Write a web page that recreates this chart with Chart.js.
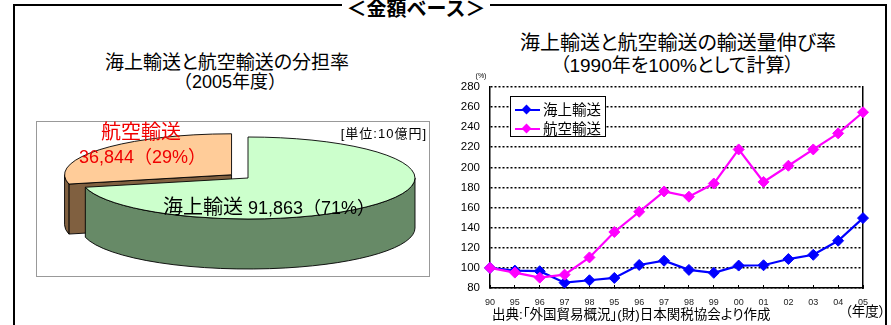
<!DOCTYPE html>
<html lang="ja">
<head>
<meta charset="utf-8">
<script src="https://cdn.jsdelivr.net/npm/chart.js@4"></script>
<style>
html, body { margin: 0; padding: 0; background: #fff; }
body {
  width: 891px; height: 325px; position: relative; overflow: hidden; color: #000;
  font-family: "Liberation Sans", "Noto Sans CJK JP", sans-serif;
  font-feature-settings: "palt";
}
.t { position: absolute; white-space: nowrap; line-height: 1; }
.c { transform: translate(-50%, -50%); }
.l { transform: translateY(-50%); }
.r { transform: translate(-100%, -50%); }
.fw { font-feature-settings: normal; }
#frame {
  position: absolute; left: 13px; top: 4px; width: 870px; height: 340px;
  border: 2px solid #000; border-bottom: none;
}
#frameTitle {
  position: absolute; left: 342px; top: 9px; width: 148px; transform: translateY(-50%);
  text-align: center; background: #fff; font-weight: bold; font-size: 20px; line-height: 1;
  font-feature-settings: normal;
}
#pieBox {
  position: absolute; left: 36px; top: 121px; width: 394px; height: 156px;
  box-sizing: border-box; border: 1px solid #999;
}
#share { position: absolute; left: 37px; top: 122px; }
#growth { position: absolute; left: 440px; top: 70px; }
#legend {
  position: absolute; left: 510px; top: 96px; width: 96px; height: 41px; box-sizing: border-box;
  border: 1.5px solid #000; background: #fff;
}
.lrow { position: absolute; left: 0; height: 18px; width: 100%; }
.lline { position: absolute; left: 4px; top: 8px; width: 25px; height: 2px; }
.ldia { position: absolute; left: 12px; top: 5px; width: 7px; height: 7px; transform: rotate(45deg); }
.ltxt { position: absolute; left: 32px; top: 1px; font-size: 14.5px; line-height: 16px; }
</style>
</head>
<body>
<div id="frame"></div>
<div id="frameTitle">＜金額ベース＞</div>

<div class="t c" style="left:227px; top:62px; font-size:19px;">海上輸送と航空輸送の分担率</div>
<div class="t c fw" style="left:230px; top:82px; font-size:18px;">（2005年度）</div>

<div id="pieBox"></div>
<canvas id="share" width="392" height="154"></canvas>
<div class="t r" style="left:427px; top:133px; font-size:13px; letter-spacing:1px;">[単位:10億円]</div>
<div id="airLabel1" class="t c fw" style="left:141px; top:132px; font-size:20px; color:#f00000;"></div>
<div id="airLabel2" class="t l fw" style="left:79px; top:157px; font-size:18px; color:#f00000;"></div>
<div id="seaLabel" class="t l fw" style="left:163px; top:207px; font-size:18px;"></div>

<div class="t c" style="left:678px; top:43px; font-size:20px;">海上輸送と航空輸送の輸送量伸び率</div>
<div class="t c" style="left:677px; top:65px; font-size:19px;">（1990年を100%として計算）</div>
<canvas id="growth" width="451" height="255"></canvas>
<div class="t c" style="left:481px; top:75px; font-size:7px;">(%)</div>
<div id="legend"></div>
<div class="t l" style="left:492px; top:315px; font-size:13.5px;">出典:「外国貿易概況」(財)日本関税協会より作成</div>
<div class="t l" style="left:845px; top:312px; font-size:13.5px;">（年度）</div>

<script>
// 2005年度の分担（単位：10億円）
const shareLabels = ['海上輸送', '航空輸送'];
const shareValues = [91863, 36844];
const shareTopColors = ['#ccffcc', '#ffcc99'];
const shareSideColors = ['#678a67', '#806040'];

// 1990年を100%とした伸び率
const years = ['90', '95', '96', '97', '98', '95', '96', '97', '98', '99', '00', '01', '02', '03', '04', '05'];
const seaGrowth = [100, 97.3, 96.7, 85.3, 87.7, 90, 102.9, 107.1, 98, 95.1, 102.3, 102.6, 108.8, 113, 127, 149.5];
const airGrowth = [100, 95.3, 90.3, 93.3, 110.4, 135.7, 155.8, 176, 170.8, 183.9, 217.8, 185.5, 201.6, 217.8, 233.8, 254.8];
const growthMin = 80, growthMax = 280, growthStep = 20;

Chart.defaults.font.family = '"Liberation Sans", "Noto Sans CJK JP", sans-serif';
Chart.defaults.color = '#000';

// --- 分担率ラベル ---
const shareTotal = shareValues.reduce((a, b) => a + b, 0);
const fmt = v => v.toLocaleString('en-US');
const pct = v => Math.round(v / shareTotal * 100);
document.getElementById('airLabel1').textContent = shareLabels[1];
document.getElementById('airLabel2').textContent = fmt(shareValues[1]) + '（' + pct(shareValues[1]) + '%）';
document.getElementById('seaLabel').innerHTML =
  '<span style="font-size:20px">' + shareLabels[0] + '</span> ' + fmt(shareValues[0]) + '（' + pct(shareValues[0]) + '%）';

// 立体の円グラフ：各スライスの角度はChart.jsの円弧要素から取り、楕円として描く
const pie3d = {
  id: 'pie3d',
  beforeDatasetsDraw(chart, args, opts) {
    const ctx = chart.ctx;
    const area = chart.chartArea;
    const depth = opts.depth;
    const rx = (area.right - area.left) / 2;
    const ry = (area.bottom - area.top - depth) / 2;
    const cx = (area.left + area.right) / 2;
    const cy = area.top + ry;
    const k = ry / rx;
    const ds = chart.data.datasets[0];
    const slices = chart.getDatasetMeta(0).data.map((arc, i) => {
      const mid = (arc.startAngle + arc.endAngle) / 2;
      const off = arc.options.offset || 0;
      return { i, a0: arc.startAngle, a1: arc.endAngle, mid,
        x: cx + off * Math.cos(mid), y: cy + off * k * Math.sin(mid) };
    });
    slices.sort((p, q) => Math.sin(p.mid) - Math.sin(q.mid));
    ctx.save();
    ctx.lineWidth = opts.lineWidth;
    ctx.strokeStyle = opts.edgeColor;
    ctx.lineJoin = 'round';
    for (const s of slices) {
      const side = ds.sideColors[s.i], top = ds.topColors[s.i];
      const px = a => s.x + rx * Math.cos(a), py = a => s.y + ry * Math.sin(a);
      // 切り口の面
      [[s.a0, -1], [s.a1, 1]].forEach(([a, sgn]) => {
        if (sgn * Math.cos(a) > 1e-6) {
          ctx.beginPath();
          ctx.moveTo(s.x, s.y);
          ctx.lineTo(px(a), py(a));
          ctx.lineTo(px(a), py(a) + depth);
          ctx.lineTo(s.x, s.y + depth);
          ctx.closePath();
          ctx.fillStyle = side; ctx.fill(); ctx.stroke();
        }
      });
      // 手前側の側面
      for (let n = -1; n <= 1; n++) {
        const lo = Math.max(s.a0, 2 * Math.PI * n), hi = Math.min(s.a1, 2 * Math.PI * n + Math.PI);
        if (hi <= lo) continue;
        ctx.beginPath();
        ctx.ellipse(s.x, s.y, rx, ry, 0, lo, hi);
        ctx.ellipse(s.x, s.y + depth, rx, ry, 0, hi, lo, true);
        ctx.closePath();
        ctx.fillStyle = side; ctx.fill(); ctx.stroke();
      }
      // 上面
      ctx.beginPath();
      ctx.moveTo(s.x, s.y);
      ctx.ellipse(s.x, s.y, rx, ry, 0, s.a0, s.a1);
      ctx.closePath();
      ctx.fillStyle = top; ctx.fill(); ctx.stroke();
    }
    ctx.restore();
    return false;
  }
};

new Chart(document.getElementById('share'), {
  type: 'pie',
  data: {
    labels: shareLabels,
    datasets: [{
      data: shareValues,
      offset: [0, 21],
      topColors: shareTopColors,
      sideColors: shareSideColors,
      backgroundColor: shareTopColors,
      borderWidth: 0
    }]
  },
  options: {
    responsive: false, animation: false, events: [],
    layout: { padding: { left: 44, right: 14, top: 15, bottom: 7 } },
    plugins: {
      legend: { display: false }, tooltip: { enabled: false },
      pie3d: { depth: 50, lineWidth: 0.9, edgeColor: '#000' }
    }
  },
  plugins: [pie3d]
});

// --- 伸び率の折れ線 ---
const growthChart = new Chart(document.getElementById('growth'), {
  type: 'line',
  data: {
    labels: years,
    datasets: [
      { label: '海上輸送', data: seaGrowth, borderColor: '#0000ff', backgroundColor: '#0000ff', order: 1 },
      { label: '航空輸送', data: airGrowth, borderColor: '#ff00ff', backgroundColor: '#ff00ff', order: 0 }
    ]
  },
  options: {
    responsive: false, animation: false, events: [],
    layout: { padding: { top: 15, right: 28, bottom: 0, left: 0 } },
    elements: {
      line: { borderWidth: 2.2, tension: 0 },
      point: { pointStyle: 'rectRot', radius: 5.5, borderWidth: 1 }
    },
    plugins: { legend: { display: false }, tooltip: { enabled: false } },
    scales: {
      x: {
        offset: false,
        grid: { drawOnChartArea: false, drawTicks: true, tickLength: -3, color: '#000', lineWidth: 1 },
        border: { display: true, color: '#000', width: 1.5 },
        ticks: { autoSkip: false, maxRotation: 0, padding: 12, font: { size: 9 }, color: '#222' },
        afterFit(s) { s.height = 37; }
      },
      y: {
        min: growthMin, max: growthMax,
        ticks: { stepSize: growthStep, padding: 10, font: { size: 11.5 } },
        grid: { color: '#000', lineWidth: 1.5, drawTicks: false },
        border: { display: true, color: '#000', width: 1.5, dash: [2, 2] },
        afterFit(s) { s.width = 50; }
      },
      y2: {
        position: 'right', display: true,
        grid: { display: false, drawTicks: false },
        ticks: { display: false },
        border: { display: true, color: '#000', width: 1.5 },
        afterFit(s) { s.width = 0; }
      }
    }
  }
});

// 凡例
const legendBox = document.getElementById('legend');
growthChart.data.datasets.forEach((d, i) => {
  const row = document.createElement('div');
  row.className = 'lrow';
  row.style.top = (4 + i * 19) + 'px';
  row.innerHTML =
    '<div class="lline" style="background:' + d.borderColor + '"></div>' +
    '<div class="ldia" style="background:' + d.borderColor + '"></div>' +
    '<div class="ltxt">' + d.label + '</div>';
  legendBox.appendChild(row);
});
</script>
</body>
</html>
